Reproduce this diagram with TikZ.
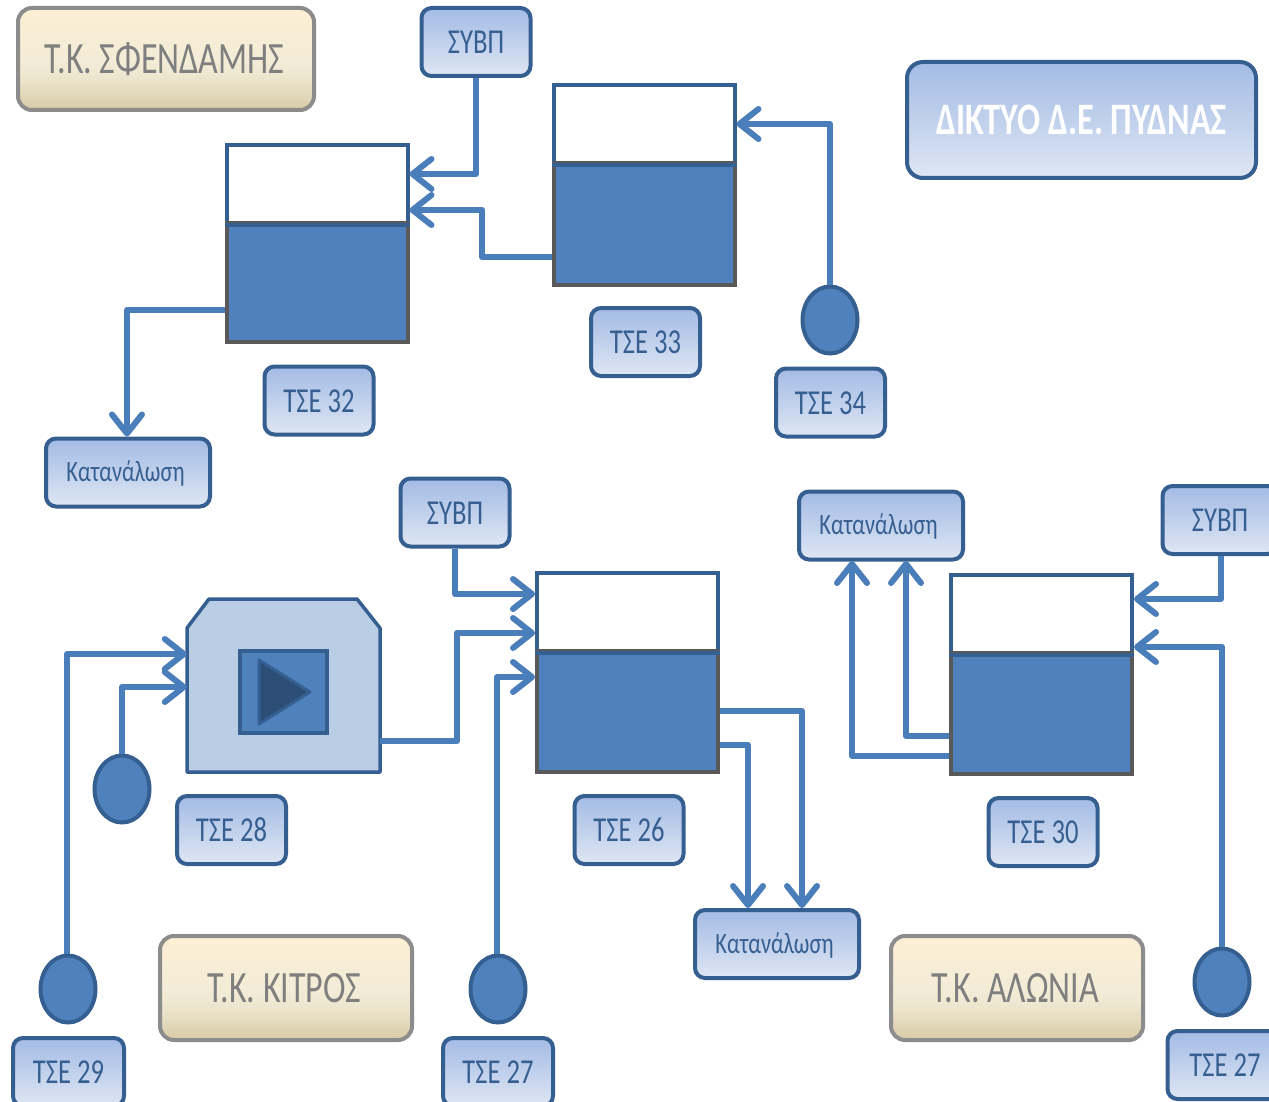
\documentclass[tikz,border=0pt]{standalone}
\usepackage{fontspec}
\setmainfont[FakeStretch=0.76]{Carlito}
\usetikzlibrary{arrows.meta,shapes.geometric,calc}
\definecolor{flowc}{HTML}{4A7EBB}
\definecolor{edgeb}{HTML}{365F91}
\definecolor{fillb}{HTML}{4F81BD}
\definecolor{edgeg}{HTML}{595959}
\definecolor{beigeedge}{HTML}{8C8C8C}
\definecolor{txtb}{HTML}{365F91}
\definecolor{txtg}{HTML}{7F7F7F}
\definecolor{machfill}{HTML}{B9CDE5}
\definecolor{tridark}{HTML}{2C4D75}
\definecolor{blA}{HTML}{DFE7F5}
\definecolor{blB}{HTML}{D6E0F1}
\definecolor{blC}{HTML}{A3BBE5}
\definecolor{beA}{HTML}{D8CBA7}
\definecolor{beB}{HTML}{EEE7D0}
\definecolor{beC}{HTML}{F3ECD7}
\definecolor{beD}{HTML}{FDEFD4}
\pgfdeclareverticalshading{blueshade}{100bp}{color(0bp)=(blA); color(25bp)=(blA); color(32bp)=(blB); color(75bp)=(blC); color(100bp)=(blC)}
\pgfdeclareverticalshading{beigeshade}{100bp}{color(0bp)=(beA); color(25bp)=(beA); color(42bp)=(beB); color(50bp)=(beC); color(75bp)=(beD); color(100bp)=(beD)}
\tikzset{
 x=1pt,y=-1pt,
 flow/.style={draw=flowc,line width=6pt,line join=round},
 flowa/.style={flow,-{Straight Barb[length=19pt,width=30pt,line width=6pt,round]}},
 bluebox/.style={rectangle,rounded corners=10pt,draw=edgeb,line width=4pt,shading=blueshade,shading angle=0,text=txtb,inner sep=0pt,minimum width=#1,minimum height=68pt,text height=24pt,text depth=1pt,font=\fontsize{35}{35}\selectfont},
 bluebox/.default=109pt,
 consbox/.style={bluebox=164pt,text height=22pt,text depth=4pt,font=\fontsize{29.5}{30}\selectfont,execute at end node=\hspace{5pt}},
 beigebox/.style={rectangle,rounded corners=14pt,draw=beigeedge,line width=4pt,shading=beigeshade,shading angle=0,text=txtg,inner sep=0pt,font=\fontsize{44.7}{45}\selectfont,execute at end node=\hspace{3pt}},
 titlebox/.style={rectangle,rounded corners=16pt,draw=edgeb,line width=4pt,shading=blueshade,shading angle=0,text=white,inner sep=0pt,minimum width=349pt,minimum height=116pt,font=\fontsize{45}{45}\selectfont\bfseries},
 tanktop/.style={rectangle,draw=edgeb,line width=4pt,fill=white,inner sep=0pt,minimum width=181pt,minimum height=78pt},
 tankbody/.style={rectangle,draw=edgeg,line width=4pt,fill=fillb,inner sep=0pt,minimum width=181pt,minimum height=120pt},
 tankline/.style={draw=edgeb,line width=4pt},
 well/.style={ellipse,draw=edgeb,line width=4pt,fill=fillb,inner sep=0pt,minimum width=55pt,minimum height=67pt},
 machine/.style={draw=edgeb,line width=3.5pt,fill=machfill,line join=round},
 inner/.style={rectangle,draw=edgeb,line width=3.5pt,fill=fillb,inner sep=0pt,minimum width=87pt,minimum height=82pt},
 playtri/.style={draw=edgeb,line width=3pt,fill=tridark,line join=round},
}
\begin{document}
\begin{tikzpicture}
\fill[white] (0,0) rectangle (1269,1102);
\path[use as bounding box] (0,0) rectangle (1269,1102);
\clip (0,0) rectangle (1269,1102);
% tanks
\node[tanktop] (t32top) at (317,184) {};
\node[tankbody,minimum height=119pt] (t32) at (317,282.5) {};
\draw[tankline] (t32top.south west) -- (t32top.south east);
\node[tanktop] (t33top) at (644,124) {};
\node[tankbody,minimum height=122pt] (t33) at (644,224) {};
\draw[tankline] (t33top.south west) -- (t33top.south east);
\node[tanktop] (t26top) at (627.5,612) {};
\node[tankbody,minimum height=121pt] (t26) at (627.5,711.5) {};
\draw[tankline] (t26top.south west) -- (t26top.south east);
\node[tanktop] (t30top) at (1041.5,614) {};
\node[tankbody,minimum height=121pt] (t30) at (1041.5,713.5) {};
\draw[tankline] (t30top.south west) -- (t30top.south east);
% machine
\coordinate (mc) at (283.5,685.5);
\draw[machine] (187,628) -- (209,599) -- (357,599) -- (380,628) -- (380,772) -- (187,772) -- cycle;
\node[rectangle,minimum width=193pt,minimum height=173pt,inner sep=0pt] (mach) at (mc) {};
\node[inner] (playbox) at (283.5,692) {};
\draw[playtri] (259,660) -- (310,692) -- (259,724) -- cycle;
% labels
\node[beigebox,minimum width=296pt,minimum height=102pt] (lsf) at (166,59) {Τ.Κ. ΣΦΕΝΔΑΜΗΣ};
\node[beigebox,minimum width=252pt,minimum height=104pt] (lki) at (286,988) {Τ.Κ. ΚΙΤΡΟΣ};
\node[beigebox,minimum width=252pt,minimum height=104pt] (lal) at (1017,988) {Τ.Κ. ΑΛΩΝΙΑ};
\node[titlebox] (title) at (1081.5,120) {ΔΙΚΤΥΟ Δ.Ε. ΠΥΔΝΑΣ};
\node[bluebox] (s1) at (476,42) {ΣΥΒΠ};
\node[bluebox] (s2) at (455,512.5) {ΣΥΒΠ};
\node[bluebox=115pt] (s3) at (1220,520) {ΣΥΒΠ};
\node[bluebox] (n33) at (645.5,342) {ΤΣΕ 33};
\node[bluebox] (n32) at (319,400.5) {ΤΣΕ 32};
\node[bluebox] (n34) at (830.5,402.5) {ΤΣΕ 34};
\node[bluebox] (n28) at (231.5,830) {ΤΣΕ 28};
\node[bluebox] (n26) at (629,830) {ΤΣΕ 26};
\node[bluebox] (n30) at (1043,832) {ΤΣΕ 30};
\node[bluebox=111pt] (n29) at (68.5,1072) {ΤΣΕ 29};
\node[bluebox=110pt] (n27) at (498,1072) {ΤΣΕ 27};
\node[bluebox=115pt] (n27b) at (1225,1065) {ΤΣΕ 27};
\node[consbox] (c1) at (128,472.5) {Κατανάλωση};
\node[consbox] (c2) at (881,525.5) {Κατανάλωση};
\node[consbox] (c3) at (777,944) {Κατανάλωση};
% wells
\node[well] (w34) at (830,320) {};
\node[well] (w28) at (122,789) {};
\node[well] (w29) at (68,989) {};
\node[well] (w27) at (498,989) {};
\node[well] (w27b) at (1222,982) {};
% connectors
\draw[flowa] (s1.south) -- (s1.south |- 0,174) -- ($(t32top.east)+(0,-10)$);
\draw[flowa] ($(t33.west)+(0,33)$) -| (482,210) -- ($(t32top.east)+(0,26)$);
\draw[flowa] (w34.north) |- (t33top.east);
\draw[flowa] ($(t32.west)+(0,27.5)$) -| ($(c1.north)+(-1,0)$);
\draw[flowa] (s2.south) |- ($(t26top.west)+(0,-18)$);
\draw[flowa] ($(mach.east)+(0,55.5)$) -| (457,633) -- ($(t26top.west)+(0,21)$);
\draw[flowa] ($(w27.north)+(-1,0)$) |- ($(t26top.west)+(0,65)$);
\draw[flowa] ($(w29.north)+(-1,0)$) |- ($(mach.west)+(0,-31.5)$);
\draw[flowa] (w28.north) |- ($(mach.west)+(0,1.5)$);
\draw[flowa] ($(t26.east)+(0,-0.5)$) -| (802,908);
\draw[flowa] ($(t26.east)+(0,33.5)$) -| (748,908);
\draw[flowa] ($(t30.west)+(0,42.5)$) -| (852,561);
\draw[flowa] ($(t30.west)+(0,22.5)$) -| (906,561);
\draw[flowa] ($(s3.south)+(1,0)$) |- ($(t30top.east)+(0,-15)$);
\draw[flowa] (w27b.north) |- ($(t30top.east)+(0,33)$);
\end{tikzpicture}
\end{document}
